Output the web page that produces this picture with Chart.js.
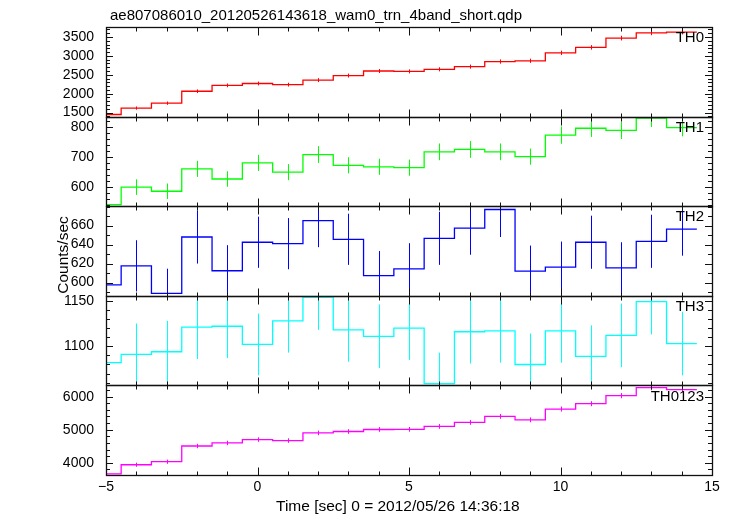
<!DOCTYPE html>
<html>
<head>
<meta charset="utf-8">
<script src="https://cdn.jsdelivr.net/npm/chart.js@4.4.0/dist/chart.umd.min.js"></script>
<style>
  html, body { margin: 0; padding: 0; background: #fff; }
</style>
</head>
<body>
<canvas id="lc" width="733" height="516"></canvas>
<script>
// 1 s bins, centre times relative to 2012/05/26 14:36:18
const binCenters = [-5, -4, -3, -2, -1, 0, 1, 2, 3, 4, 5, 6, 7, 8, 9, 10, 11, 12, 13, 14];
const binWidth = 1;

const th0Rate = [1450, 1620, 1750, 2065, 2220, 2270, 2240, 2360, 2480, 2600, 2590, 2645, 2715, 2850, 2870, 3080, 3225, 3470, 3610, 3630];
const th0Err  = [40, 42, 44, 48, 49, 50, 50, 51, 52, 53, 53, 54, 54, 56, 56, 58, 59, 62, 63, 63];
const th1Rate = [540, 599, 585, 660, 626, 680, 649, 708, 672, 667, 664, 717, 725, 717, 701, 773, 796, 789, 830, 798];
const th1Err  = [24, 26, 26, 27, 26, 27, 27, 28, 27, 27, 27, 28, 28, 28, 27, 29, 29, 29, 30, 29];
const th2Rate = [597.5, 617.6, 588.6, 648, 612.4, 642.5, 641, 665.3, 645.6, 607.2, 614.5, 646.6, 657.3, 677, 612, 616.2, 642.5, 615.5, 643.5, 656.3];
const th2Err  = [27, 27, 26, 28, 27, 27, 27, 28, 27, 26, 27, 28, 28, 29, 27, 27, 28, 27, 28, 28];
const th3Rate = [1082, 1091, 1094, 1121, 1122, 1102, 1128, 1154, 1118, 1111, 1120, 1059, 1116, 1117, 1080, 1117, 1089, 1112, 1149, 1103];
const th3Err  = [34, 34, 34, 35, 35, 34, 35, 36, 35, 35, 35, 34, 35, 35, 34, 35, 34, 35, 36, 35];
const th0123Rate = [3665, 3939, 4030, 4506, 4598, 4701, 4671, 4902, 4945, 5006, 5010, 5098, 5220, 5402, 5299, 5625, 5787, 6030, 6274, 6213];
const th0123Err  = [60, 62, 63, 67, 68, 68, 68, 70, 70, 71, 71, 71, 72, 73, 73, 75, 76, 78, 79, 79];

const panelNames = ['TH0', 'TH1', 'TH2', 'TH3', 'TH0123'];
const xTicks = [-5, 0, 5, 10, 15];
const th0Ticks = [1500, 2000, 2500, 3000, 3500];
const th1Ticks = [600, 700, 800];
const th2Ticks = [600, 620, 640, 660];
const th3Ticks = [1100, 1150];
const th0123Ticks = [4000, 5000, 6000];

const titleText = 'ae807086010_20120526143618_wam0_trn_4band_short.qdp';
const xTitle = 'Time [sec] 0 = 2012/05/26 14:36:18';
const yTitle = 'Counts/sec';

// axis ranges / colours per panel
const panels = [
  { rate: th0Rate, err: th0Err, ticks: th0Ticks, min: 1395, max: 3763, minor: 100, color: '#ff0000' },
  { rate: th1Rate, err: th1Err, ticks: th1Ticks, min: 535, max: 835, minor: 20, color: '#00ff00' },
  { rate: th2Rate, err: th2Err, ticks: th2Ticks, min: 586, max: 680.5, minor: 10, color: '#0000ff' },
  { rate: th3Rate, err: th3Err, ticks: th3Ticks, min: 1057, max: 1155.5, minor: 10, color: '#00ffff' },
  { rate: th0123Rate, err: th0123Err, ticks: th0123Ticks, min: 3628, max: 6341, minor: 200, color: '#ff00ff' }
];

const FONT = '"Liberation Sans", Arial, sans-serif';

// step histogram: flat from left edge to first centre, steps at bin edges, flat to last right edge
function stepPoints(rate) {
  const pts = [{ x: binCenters[0] - binWidth / 2, y: rate[0] }];
  binCenters.forEach((c, i) => pts.push({ x: c, y: rate[i] }));
  const n = binCenters.length - 1;
  pts.push({ x: binCenters[n] + binWidth / 2, y: rate[n] });
  return pts;
}

const scales = {
  x: {
    type: 'linear', min: -5, max: 15,
    afterBuildTicks: s => { s.ticks = xTicks.map(v => ({ value: v })); },
    afterFit: s => { s.height = 41; },
    ticks: { font: { family: FONT, size: 14 }, color: '#000', padding: 4, maxRotation: 0, autoSkip: false,
             callback: v => (v < 0 ? '\u2212' + Math.abs(v) : '' + v) },
    grid: { display: false, drawTicks: false },
    border: { display: false }
  }
};
panels.forEach((p, i) => {
  scales['y' + i] = {
    type: 'linear', position: 'left', stack: 'qdp', weight: 5 - i,
    min: p.min, max: p.max,
    afterBuildTicks: s => { s.ticks = p.ticks.map(v => ({ value: v })); },
    afterFit: s => { s.width = 106; },
    ticks: { font: { family: FONT, size: 14 }, color: '#000', padding: 12, autoSkip: false,
             callback: v => String(v) },
    grid: { display: false, drawTicks: false },
    border: { display: false }
  };
});

const datasets = panels.map((p, i) => ({
  label: panelNames[i],
  data: stepPoints(p.rate),
  yAxisID: 'y' + i,
  xAxisID: 'x',
  borderColor: p.color,
  borderWidth: 1.3,
  pointRadius: 0,
  stepped: 'middle',
  fill: false
}));

const qdpDecor = {
  id: 'qdpDecor',
  afterDatasetsDraw(chart) {
    const ctx = chart.ctx;
    const xs = chart.scales.x;
    ctx.save();
    panels.forEach((p, i) => {
      const ys = chart.scales['y' + i];
      ctx.strokeStyle = p.color;
      ctx.lineWidth = 1;
      ctx.beginPath();
      binCenters.forEach((c, k) => {
        const px = Math.round(xs.getPixelForValue(c)) + 0.5;
        let y1 = ys.getPixelForValue(p.rate[k] - p.err[k]);
        let y2 = ys.getPixelForValue(p.rate[k] + p.err[k]);
        y1 = Math.min(y1, ys.bottom); y2 = Math.max(y2, ys.top);
        ctx.moveTo(px, y1);
        ctx.lineTo(px, y2);
      });
      ctx.stroke();
    });
    ctx.restore();
  },
  afterDraw(chart) {
    const ctx = chart.ctx;
    const xs = chart.scales.x;
    const L = xs.left, R = xs.right;
    ctx.save();
    ctx.strokeStyle = '#111';
    ctx.lineWidth = 1;
    panels.forEach((p, i) => {
      const ys = chart.scales['y' + i];
      const T = Math.round(ys.top) + 0.5, B = Math.round(ys.bottom) + 0.5;
      ctx.beginPath();
      // x ticks on top and bottom edges
      for (let v = -5; v <= 15; v++) {
        const px = Math.round(xs.getPixelForValue(v)) + 0.5;
        const len = xTicks.includes(v) ? 8 : 4;
        ctx.moveTo(px, T); ctx.lineTo(px, T + len);
        ctx.moveTo(px, B); ctx.lineTo(px, B - len);
      }
      // y ticks on left and right edges
      const start = Math.ceil(p.min / p.minor);
      const end = Math.floor(p.max / p.minor);
      for (let k = start; k <= end; k++) {
        const v = k * p.minor;
        const py = Math.round(ys.getPixelForValue(v)) + 0.5;
        const len = p.ticks.includes(v) ? 7 : 4;
        ctx.moveTo(L, py); ctx.lineTo(L + len, py);
        ctx.moveTo(R, py); ctx.lineTo(R - len, py);
      }
      ctx.stroke();
      ctx.lineWidth = 1.3;
      ctx.strokeRect(Math.round(L) + 0.5, T, Math.round(R - L), B - T);
      ctx.lineWidth = 1;
      // panel name
      ctx.fillStyle = '#000';
      ctx.font = '15px ' + FONT;
      ctx.textAlign = 'right';
      ctx.textBaseline = 'middle';
      ctx.fillText(panelNames[i], R - 8, ys.top + 11);
    });
    ctx.fillStyle = '#000';
    ctx.font = '15px ' + FONT;
    ctx.textAlign = 'left';
    ctx.textBaseline = 'alphabetic';
    ctx.fillText(titleText, 110, 20);
    ctx.font = '15.5px ' + FONT;
    ctx.fillText(xTitle, 276, 511);
    const top = chart.scales.y0.top, bot = chart.scales.y4.bottom;
    ctx.translate(64, (top + bot) / 2 + 4);
    ctx.rotate(-Math.PI / 2);
    ctx.textAlign = 'center';
    ctx.textBaseline = 'middle';
    ctx.fillText(yTitle, 0, 0);
    ctx.restore();
  }
};

new Chart(document.getElementById('lc').getContext('2d'), {
  type: 'line',
  data: { datasets: datasets },
  options: {
    responsive: false,
    animation: false,
    devicePixelRatio: 1,
    layout: { padding: { top: 27, right: 21, left: 0, bottom: 0 } },
    plugins: { legend: { display: false }, tooltip: { enabled: false }, title: { display: false } },
    scales: scales
  },
  plugins: [qdpDecor]
});
</script>
</body>
</html>
